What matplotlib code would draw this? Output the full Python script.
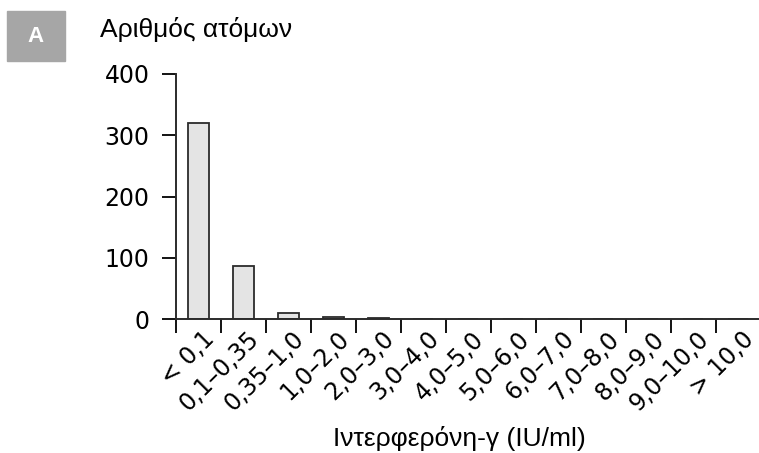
import numpy as np
import matplotlib.pyplot as plt

categories = ['< 0,1', '0,1–0,35', '0,35–1,0', '1,0–2,0', '2,0–3,0', '3,0–4,0',
              '4,0–5,0', '5,0–6,0', '6,0–7,0', '7,0–8,0', '8,0–9,0', '9,0–10,0', '> 10,0']
counts = [320, 87, 10, 4, 2, 0, 0, 0, 0, 0, 0, 0, 0]
y_ticks = [0, 100, 200, 300, 400]

fig = plt.figure(figsize=(7.59, 4.53), dpi=100)
ax = fig.add_axes([0.232, 0.295, 0.77, 0.542])

x = np.arange(len(categories))
ax.bar(x, counts, width=0.45, color='#e4e4e4', edgecolor='#2b2b2b', linewidth=1.3)

ax.set_xlim(-0.5, len(categories) - 0.5)
ax.set_ylim(0, 400)
ax.set_yticks(y_ticks)
ax.set_xticks(x - 0.5)
ax.set_xticklabels([])
ax.tick_params(axis='y', direction='out', length=10, width=1.3, labelsize=17, pad=9)
ax.tick_params(axis='x', direction='out', length=10, width=1.3)

for s in ['top', 'right']:
    ax.spines[s].set_visible(False)
for s in ['left', 'bottom']:
    ax.spines[s].set_linewidth(1.4)
    ax.spines[s].set_color('#2b2b2b')

# rotated category labels, anchored under each bar
for xi, lab in zip(x, categories):
    ax.text(xi + 0.08, -12, lab, rotation=45, ha='right', va='top',
            rotation_mode='anchor', fontsize=17, transform=ax.transData)

fig.text(0.132, 0.935, 'Αριθμός ατόμων', fontsize=19, family='Liberation Sans',
         va='center', ha='left')
fig.text(0.605, 0.032, 'Ιντερφερόνη-γ (IU/ml)', fontsize=19, family='Liberation Sans',
         va='center', ha='center')

# panel tag
fig.patches.append(plt.Rectangle((7 / 759, 1 - 61 / 453), 58 / 759, 50 / 453,
                                 transform=fig.transFigure, color='#a6a6a6'))
fig.text(36 / 759, 1 - 36 / 453, 'A', color='white', fontsize=16, fontweight='bold',
         family='Liberation Sans', ha='center', va='center')

fig.savefig('out.png', dpi=100)
